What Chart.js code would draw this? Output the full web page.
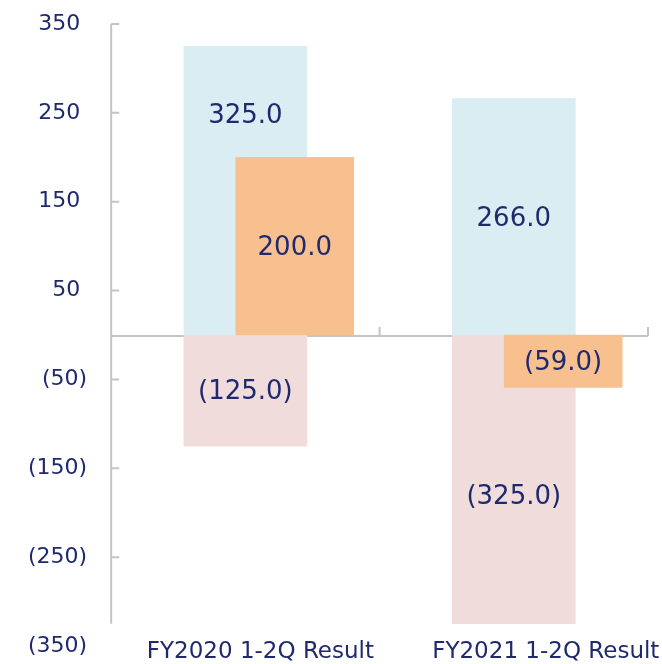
<!DOCTYPE html>
<html>
<head>
<meta charset="utf-8">
<script src="https://cdn.jsdelivr.net/npm/chart.js@4/dist/chart.umd.min.js"></script>
<style>
  html, body { margin: 0; padding: 0; background: #fff; }
  #wrap { width: 662px; height: 664px; }
</style>
</head>
<body>
<div id="wrap"><canvas id="chart"></canvas></div>
<script>
// data
const categories = ['FY2020 1-2Q Result', 'FY2021 1-2Q Result'];
const blueValues = [325.0, 266.0];
const pinkValues = [-125.0, -325.0];
const orangeValues = [200.0, -59.0];
const yTicks = [350, 250, 150, 50, -50, -150, -250, -350];

const textColor = '#1f2a6e';
const axisColor = '#c4c4c4';
const ORANGE_SHIFT = 0.184; // orange bar sits right of the category centre
const catLabelShift = [15, 32]; // excel put the category text a bit right

function fmt(v) {
  return v < 0 ? '(' + Math.abs(v).toFixed(1) + ')' : v.toFixed(1);
}

// axis lines, tick marks, zero line and category text
const axisPlugin = {
  id: 'axisLines',
  beforeDatasetsDraw(chart) {
    const { ctx, chartArea, scales: { x, y } } = chart;
    const lowest = Math.min(...blueValues, ...pinkValues, ...orangeValues);
    const yBottom = y.getPixelForValue(lowest);
    const y0 = y.getPixelForValue(0) + 1;
    ctx.save();
    ctx.strokeStyle = axisColor;
    ctx.lineWidth = 2;
    ctx.beginPath();
    ctx.moveTo(chartArea.left, chartArea.top);
    ctx.lineTo(chartArea.left, yBottom);
    yTicks.forEach(v => {
      if (v < lowest) return;
      const py = y.getPixelForValue(v);
      ctx.moveTo(chartArea.left, py);
      ctx.lineTo(chartArea.left + 8, py);
    });
    ctx.moveTo(chartArea.left, y0);
    ctx.lineTo(chartArea.right, y0);
    for (let i = 1; i <= categories.length; i++) {
      const px = x.getPixelForValue(i - 0.5);
      ctx.moveTo(px, y0);
      ctx.lineTo(px, y0 - 9);
    }
    ctx.stroke();

    ctx.font = '23px "DejaVu Sans"';
    ctx.fillStyle = textColor;
    ctx.textAlign = 'center';
    ctx.textBaseline = 'middle';
    categories.forEach((c, i) => {
      ctx.fillText(c, x.getPixelForValue(i) + catLabelShift[i], chartArea.bottom + 6);
    });
    ctx.restore();
  }
};

// value labels inside the bars
const labelNudge = { 'blue-0': -76, 'pink-1': 16 };
const valueLabels = {
  id: 'valueLabels',
  afterDatasetsDraw(chart) {
    const { ctx } = chart;
    ctx.save();
    ctx.font = '26px "DejaVu Sans"';
    ctx.fillStyle = textColor;
    ctx.textAlign = 'center';
    ctx.textBaseline = 'middle';
    chart.data.datasets.forEach((ds, di) => {
      const meta = chart.getDatasetMeta(di);
      meta.data.forEach((bar, i) => {
        const raw = ds.data[i];
        const v = typeof raw === 'object' ? raw.y : raw;
        const nudge = labelNudge[ds.key + '-' + i] || 0;
        ctx.fillText(fmt(v), bar.x, (bar.y + bar.base) / 2 + 2 + nudge);
      });
    });
    ctx.restore();
  }
};

new Chart(document.getElementById('chart'), {
  type: 'bar',
  data: {
    labels: categories,
    datasets: [
      {
        key: 'orange',
        data: orangeValues.map((v, i) => ({ x: i + ORANGE_SHIFT, y: v })),
        xAxisID: 'x2',
        backgroundColor: '#f9c08f',
        barThickness: 118,
        grouped: false,
        order: 0
      },
      {
        key: 'blue',
        data: blueValues,
        backgroundColor: '#daedf3',
        barThickness: 123,
        grouped: false,
        order: 1
      },
      {
        key: 'pink',
        data: pinkValues,
        backgroundColor: '#f1dcdc',
        barThickness: 123,
        grouped: false,
        order: 2
      }
    ]
  },
  options: {
    responsive: true,
    maintainAspectRatio: false,
    animation: false,
    layout: { padding: { left: 4, right: 14, top: 24, bottom: 18 } },
    plugins: {
      legend: { display: false },
      tooltip: { enabled: false }
    },
    scales: {
      x: {
        display: false
      },
      x2: {
        type: 'linear',
        display: false,
        offset: false,
        min: -0.5,
        max: categories.length - 0.5
      },
      y: {
        min: -350,
        max: 350,
        grid: { display: false, drawTicks: false },
        border: { display: false },
        afterBuildTicks: s => { s.ticks = yTicks.map(v => ({ value: v })); },
        afterFit: s => { s.paddingTop = 0; s.paddingBottom = 0; },
        ticks: {
          color: textColor,
          font: { family: 'DejaVu Sans', size: 22 },
          padding: 24,
          callback: v => v < 0 ? '(' + Math.abs(v) + ')' : v + '\u2008'
        }
      }
    }
  },
  plugins: [axisPlugin, valueLabels]
});
</script>
</body>
</html>
